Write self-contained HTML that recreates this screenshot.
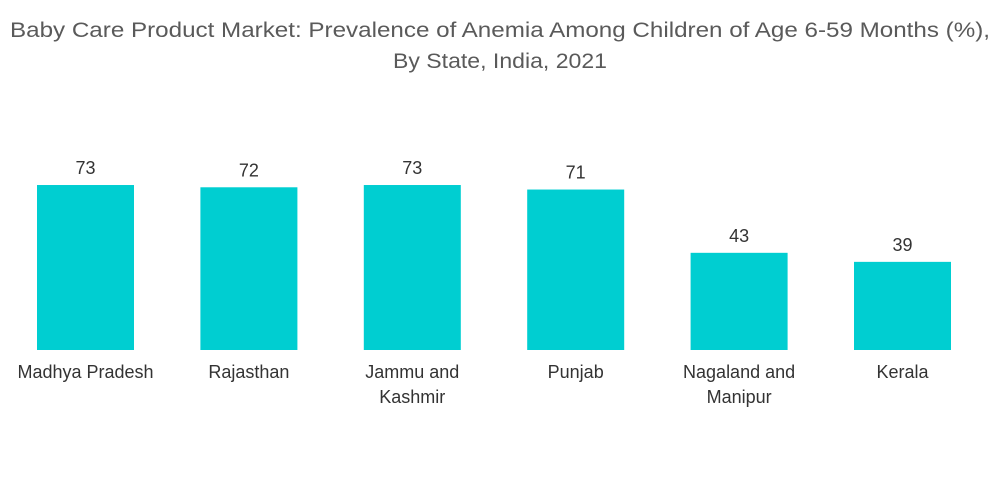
<!DOCTYPE html>
<html><head><meta charset="utf-8"><style>
body{margin:0;background:#fff;}
svg{display:block;font-family:"Liberation Sans",sans-serif;}
</style></head><body>
<svg id="chart" width="1000" height="504">
<text x="500" y="37" text-anchor="middle" font-size="21" fill="#5a5a5a" textLength="980" lengthAdjust="spacingAndGlyphs">Baby Care Product Market: Prevalence of Anemia Among Children of Age 6-59 Months (%),</text>
<text x="500" y="68" text-anchor="middle" font-size="21" fill="#5a5a5a" textLength="214" lengthAdjust="spacingAndGlyphs">By State, India, 2021</text>
<g id="bars"></g>
</svg>
<script>
const categories = [["Madhya Pradesh"],["Rajasthan"],["Jammu and","Kashmir"],["Punjab"],["Nagaland and","Manipur"],["Kerala"]];
const values = [73,72,73,71,43,39];
const baseline = 350, pxPerUnit = 2.26, firstCenter = 85.5, step = 163.4, barW = 97;
function yScale(v){return baseline - v*pxPerUnit;}
function xCenter(i){return firstCenter + i*step;}
const g = document.getElementById('bars');
const ns = 'http://www.w3.org/2000/svg';
values.forEach((v,i)=>{
  const cx = xCenter(i);
  const r = document.createElementNS(ns,'rect');
  r.setAttribute('x', cx-barW/2); r.setAttribute('y', yScale(v));
  r.setAttribute('width', barW); r.setAttribute('height', baseline-yScale(v));
  r.setAttribute('fill','#00ced1');
  
  
  g.appendChild(r);
  const t = document.createElementNS(ns,'text');
  t.setAttribute('x', cx); t.setAttribute('y', yScale(v)-11);
  t.setAttribute('text-anchor','middle'); t.setAttribute('font-size','18'); t.setAttribute('fill','#333');
  t.textContent = v;
  
  
  g.appendChild(t);
  categories[i].forEach((line,j)=>{
    const c = document.createElementNS(ns,'text');
    c.setAttribute('x', cx); c.setAttribute('y', 378 + j*25);
    c.setAttribute('text-anchor','middle'); c.setAttribute('font-size','18'); c.setAttribute('fill','#333');
    c.textContent = line;
    
    
    g.appendChild(c);
  });
});
</script>
</body></html>
